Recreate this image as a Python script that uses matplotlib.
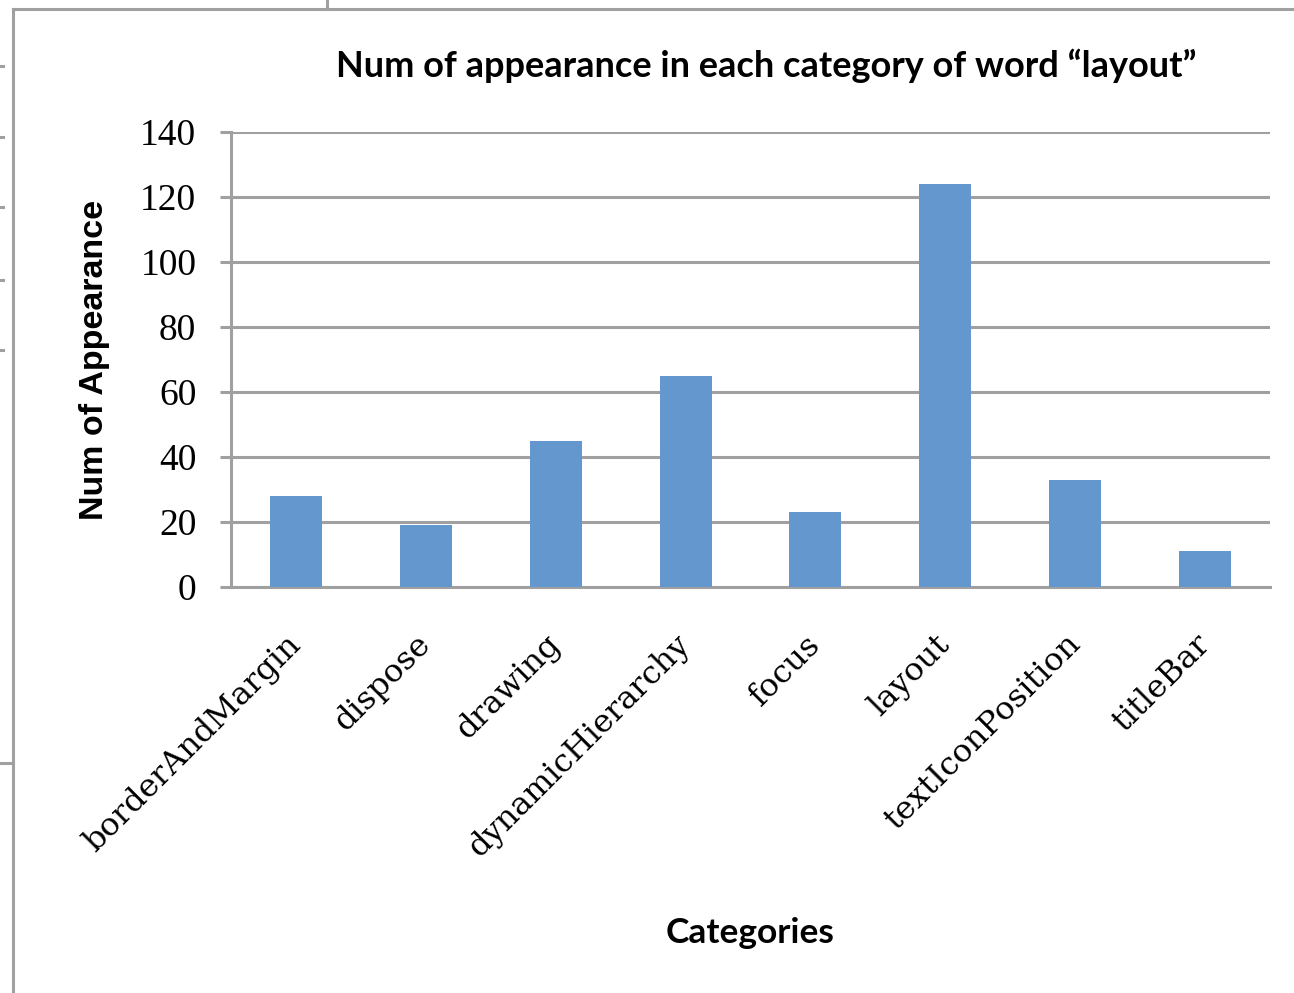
import matplotlib
matplotlib.use('Agg')
import matplotlib.pyplot as plt
from matplotlib.lines import Line2D

categories = ['borderAndMargin', 'dispose', 'drawing', 'dynamicHierarchy',
              'focus', 'layout', 'textIconPosition', 'titleBar']
counts = [28, 19, 45, 65, 23, 124, 33, 11]
y_ticks = [0, 20, 40, 60, 80, 100, 120, 140]

grey = '#A0A0A0'
blue = '#6397CD'

fig = plt.figure(figsize=(12.94, 9.93), dpi=100)
ax = fig.add_axes([0.1785, 0.4089, 0.8030, 0.4582])

x = range(len(categories))
ax.bar(x, counts, width=0.4, color=blue, zorder=3)

ax.set_xlim(-0.5, len(categories) - 0.5)
ax.set_ylim(0, 140)
ax.set_yticks(y_ticks)
ax.set_yticklabels([str(v) for v in y_ticks], family='Liberation Serif', fontsize=27)
ax.set_xticks(list(x))
ax.set_xticklabels(categories, family='DejaVu Serif', fontsize=23,
                   rotation=45, ha='right', va='center', rotation_mode='anchor')

ax.yaxis.grid(True, color=grey, linewidth=2.2, zorder=0)
ax.tick_params(axis='y', length=8, width=2.2, color=grey, pad=17)
ax.tick_params(axis='x', length=0, pad=38)

for side in ['top', 'right']:
    ax.spines[side].set_visible(False)
for side in ['left', 'bottom']:
    ax.spines[side].set_color(grey)
    ax.spines[side].set_linewidth(2.2)

ax.set_ylabel('Num of Appearance', family='Liberation Sans', fontweight='bold',
              fontsize=24.5, labelpad=22)
ax.set_xlabel('Categories', family='Lato', fontweight='bold', fontsize=25.5)
ax.xaxis.set_label_coords(0.5, -0.725)

fig.text(0.592, 0.934, 'Num of appearance in each category of word \u201clayout\u201d',
         family='Lato', fontweight='bold', fontsize=26, ha='center', va='center')

# screenshot frame around the chart
W, H = 1294, 993
def fline(xs, ys):
    fig.add_artist(Line2D([v / W for v in xs], [1 - v / H for v in ys],
                          color=grey, linewidth=2.2, transform=fig.transFigure))

fline([13, 13], [9, 993])
fline([13, 1294], [9, 9])
fline([327, 327], [0, 9])
fline([0, 13], [763, 763])
for yy in [66, 137, 207, 280, 350]:
    fline([0, 3], [yy, yy])

fig.savefig('out.png', dpi=100)
